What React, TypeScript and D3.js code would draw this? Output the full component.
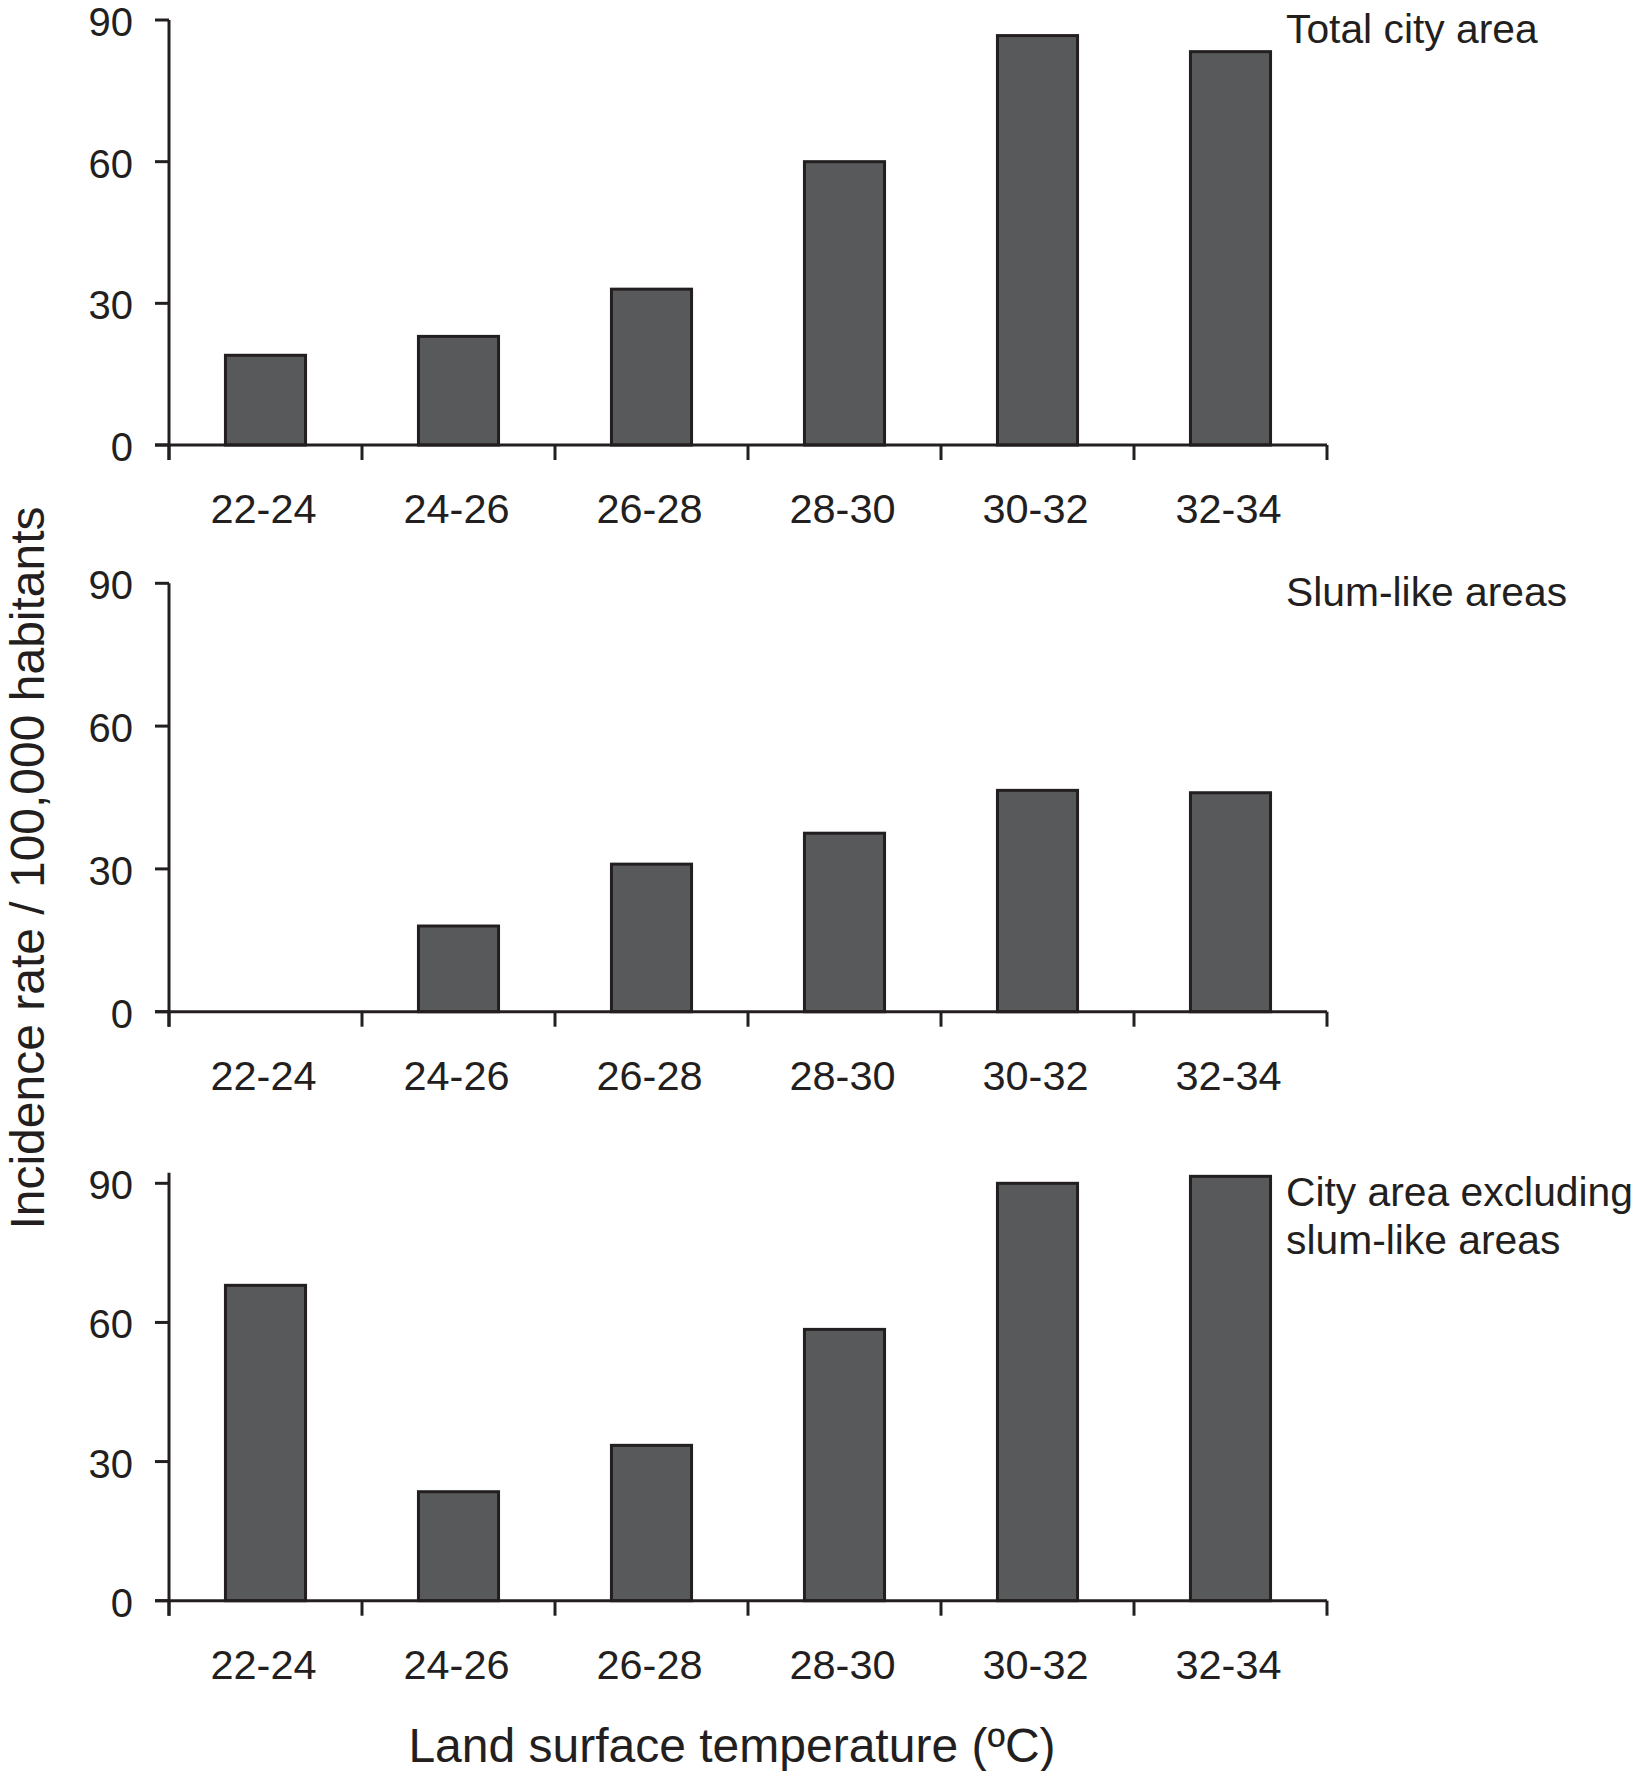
import React from "react";
import * as d3 from "d3";

const categories = ["22-24", "24-26", "26-28", "28-30", "30-32", "32-34"];
const totalCity = [19, 23, 33, 60, 86.7, 83.3];
const slumLike = [0, 18, 31, 37.5, 46.5, 46];
const excludingSlum = [68, 23.5, 33.5, 58.5, 90, 91.5];
const yTicks = [0, 30, 60, 90];
const panelLabels = [["Total city area"], ["Slum-like areas"], ["City area excluding", "slum-like areas"]];
const yTitle = "Incidence rate / 100,000 habitants";
const xTitle = "Land surface temperature (ºC)";

const W = 1638;
const H = 1771;
const AXIS_X = 169;
const AXIS_END = 1327;
const FONT = "'Liberation Sans', Arial, Helvetica, sans-serif";
const INK = "#231f20";
const FILL = "#58595b";

const panels = [
  { values: totalCity, top: 20, bottom: 445, axisMax: 90 },
  { values: slumLike, top: 583.3, bottom: 1011.7, axisMax: 90 },
  { values: excludingSlum, top: 1183.3, bottom: 1600.7, axisMax: 92.3 },
];

function Panel({ p, labels }: { p: typeof panels[0]; labels: string[] }) {
  const x = d3
    .scaleBand<string>()
    .domain(categories)
    .range([AXIS_X, AXIS_END])
    .paddingInner(0.585)
    .paddingOuter(0.2925);
  const y = d3.scaleLinear().domain([0, 90]).range([p.bottom, p.top]);
  const step = x.step();
  const boundaries = d3.range(categories.length + 1).map((i) => AXIS_X + i * step);
  return (
    <g>
      {p.values.map((v, i) =>
        v > 0 ? (
          <rect
            key={i}
            x={x(categories[i])!}
            y={y(v)}
            width={x.bandwidth()}
            height={y(0) - y(v)}
            fill={FILL}
            stroke={INK}
            strokeWidth={3}
          />
        ) : null
      )}
      <line x1={AXIS_X} x2={AXIS_X} y1={y(p.axisMax)} y2={y(0) + 15} stroke={INK} strokeWidth={3} />
      <line x1={AXIS_X - 14} x2={AXIS_END} y1={y(0)} y2={y(0)} stroke={INK} strokeWidth={3} />
      {yTicks.map((t) => (
        <g key={t}>
          <line x1={AXIS_X - 14} x2={AXIS_X} y1={y(t)} y2={y(t)} stroke={INK} strokeWidth={3} />
          <text
            x={133}
            y={y(t)}
            dy="0.4em"
            textAnchor="end"
            fontSize={40}
            fontFamily={FONT}
            fill={INK}
          >
            {t}
          </text>
        </g>
      ))}
      {boundaries.map((bx, i) => (
        <line key={i} x1={bx} x2={bx} y1={y(0)} y2={y(0) + 15} stroke={INK} strokeWidth={3} />
      ))}
      {categories.map((c) => (
        <text
          key={c}
          x={x(c)! + x.bandwidth() / 2 - 2}
          y={y(0) + 78}
          textAnchor="middle"
          fontSize={41.5}
          fontFamily={FONT}
          fill={INK}
        >
          {c}
        </text>
      ))}
      {labels.map((l, i) => (
        <text
          key={l}
          x={1286}
          y={p.top + 23 + i * 48}
          fontSize={40.8}
          fontFamily={FONT}
          fill={INK}
        >
          {l}
        </text>
      ))}
    </g>
  );
}

export default function App() {
  return (
    <svg
      width={W}
      height={H}
      viewBox={`0 0 ${W} ${H}`}
      style={{ position: "absolute", left: 0, top: 0, background: "#fff" }}
    >
      <rect x={0} y={0} width={W} height={H} fill="#fff" />
      {panels.map((p, i) => (
        <Panel key={i} p={p} labels={panelLabels[i]} />
      ))}
      <text
        transform={`translate(44, 868) rotate(-90)`}
        textAnchor="middle"
        fontSize={48}
        fontFamily={FONT}
        fill={INK}
      >
        {yTitle}
      </text>
      <text x={732} y={1762} textAnchor="middle" fontSize={48} fontFamily={FONT} fill={INK}>
        {xTitle}
      </text>
    </svg>
  );
}
